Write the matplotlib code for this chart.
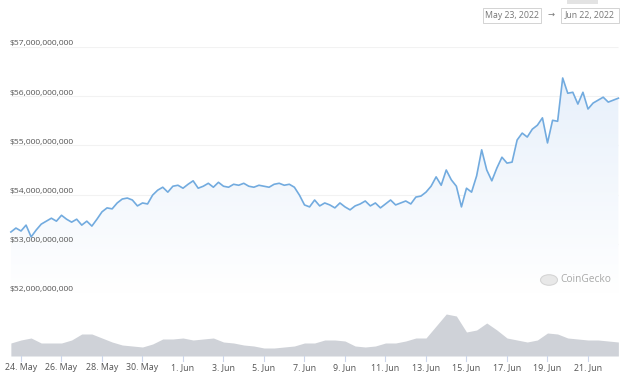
import numpy as np
import pandas as pd
import matplotlib
matplotlib.use('Agg')
from matplotlib import pyplot as plt
import matplotlib.dates as mdates
from matplotlib.colors import LinearSegmentedColormap
from matplotlib.patches import Rectangle, Circle

# market cap, billions USD, every 6 hours from May 23 12:00
cap_start = '2022-05-23 12:00'
market_cap = [
    53.24, 53.32, 53.26, 53.38, 53.14, 53.28, 53.40, 53.46, 53.52, 53.46,
    53.58, 53.50, 53.44, 53.50, 53.38, 53.46, 53.36, 53.50, 53.65, 53.73,
    53.71, 53.83, 53.91, 53.93, 53.89, 53.77, 53.83, 53.81, 53.99, 54.09,
    54.15, 54.05, 54.17, 54.19, 54.13, 54.21, 54.28, 54.13, 54.17, 54.23,
    54.15, 54.25, 54.17, 54.15, 54.21, 54.19, 54.23, 54.17, 54.15, 54.19,
    54.17, 54.15, 54.21, 54.23, 54.19, 54.21, 54.15, 53.99, 53.79, 53.75,
    53.89, 53.77, 53.83, 53.79, 53.73, 53.83, 53.75, 53.69, 53.77, 53.81,
    53.87, 53.77, 53.83, 53.73, 53.81, 53.89, 53.79, 53.83, 53.87, 53.81,
    53.95, 53.97, 54.05, 54.17, 54.36, 54.19, 54.50, 54.30, 54.17, 53.75,
    54.13, 54.05, 54.38, 54.91, 54.50, 54.28, 54.54, 54.76, 54.64, 54.66,
    55.11, 55.25, 55.17, 55.33, 55.41, 55.56, 55.05, 55.51, 55.49, 56.37,
    56.06, 56.08, 55.84, 56.08, 55.74, 55.86, 55.92, 55.98, 55.88, 55.92,
    55.96,
]

# volume (relative units), every 12 hours from May 23 12:00
volume = [
    13, 16, 18, 13, 13, 13, 16, 22, 22, 18,
    14, 11, 10, 9, 12, 17, 17, 18, 16, 17,
    18, 14, 13, 11, 10, 8, 8, 9, 10, 13,
    13, 16, 16, 15, 10, 9, 10, 13, 13, 15,
    18, 18, 30, 42, 40, 24, 26, 33, 26, 18,
    16, 14, 16, 23, 22, 18, 17, 16, 16, 15,
    14,
]

y_ticks = [52, 53, 54, 55, 56, 57]
y_labels = ['$52,000,000,000', '$53,000,000,000', '$54,000,000,000',
            '$55,000,000,000', '$56,000,000,000', '$57,000,000,000']
x_ticks = ['2022-05-24', '2022-05-26', '2022-05-28', '2022-05-30', '2022-06-01',
           '2022-06-03', '2022-06-05', '2022-06-07', '2022-06-09', '2022-06-11',
           '2022-06-13', '2022-06-15', '2022-06-17', '2022-06-19', '2022-06-21']
x_labels = ['24. May', '26. May', '28. May', '30. May', '1. Jun', '3. Jun', '5. Jun',
            '7. Jun', '9. Jun', '11. Jun', '13. Jun', '15. Jun', '17. Jun',
            '19. Jun', '21. Jun']

cap_dates = pd.date_range(cap_start, periods=len(market_cap), freq='6h')
vol_dates = pd.date_range(cap_start, periods=len(volume), freq='12h')

W, H = 632, 392
PX_PER_DAY = 20.25
t0 = mdates.date2num(pd.Timestamp('2022-05-23'))
xlim = (t0 - 0.75 / PX_PER_DAY, t0 + (W - 0.75) / PX_PER_DAY)


def box(x0, y0, x1, y1):
    return [x0 / W, 1 - y1 / H, (x1 - x0) / W, (y1 - y0) / H]


plt.rcParams['font.family'] = ['Open Sans', 'DejaVu Sans']
fig = plt.figure(figsize=(W / 100, H / 100), dpi=100)
fig.patch.set_facecolor('white')

# price panel
ax = fig.add_axes(box(0, 47, W, 293))
ax.set_xlim(xlim)
ax.set_ylim(52, 57)
ax.axis('off')
x0d, x1d = mdates.date2num(cap_dates[0]), mdates.date2num(cap_dates[-1])
ax.hlines(y_ticks, x0d, x1d, color='#f2f2f2', lw=0.8, zorder=0)

poly = ax.fill_between(cap_dates, market_cap, 52, color='none', lw=0)
grad = np.linspace(0, 1, 256).reshape(-1, 1)
cmap = LinearSegmentedColormap.from_list('fade', ['#ffffff', '#e4eefa'])
img = ax.imshow(grad, extent=[x0d, x1d, 52, 57], aspect='auto', cmap=cmap,
                origin='lower', zorder=1)
img.set_clip_path(poly.get_paths()[0], transform=ax.transData)
ax.plot(cap_dates, market_cap, color='#72abdf', lw=1.2, zorder=3)

for v, lab in zip(y_ticks, y_labels):
    ax.annotate(lab, xy=(10 / W, v), xycoords=('axes fraction', 'data'),
                xytext=(0, 3), textcoords='offset pixels', fontsize=6.1,
                color='#555555', ha='left', va='center', zorder=4)

# volume panel
axv = fig.add_axes(box(0, 306, W, 356))
axv.set_xlim(xlim)
axv.set_ylim(0, 50)
axv.fill_between(vol_dates, volume, 0, color='#cfd2d8', lw=0)
axv.axis('off')

# x axis ticks and labels
for d, lab in zip(x_ticks, x_labels):
    xd = mdates.date2num(pd.Timestamp(d))
    axv.plot([xd, xd], [0, -5], color='#ccd6eb', lw=0.8, clip_on=False)
    axv.text(xd, -12, lab, fontsize=6.4, color='#555555', ha='center', va='center')

# date range inputs
fig.patches.append(Rectangle((567 / W, 1 - 4 / H), 31 / W, 4 / H,
                             transform=fig.transFigure, color='#e3e3e3', lw=0))
for bx0, bx1, lab in [(483, 541, 'May 23, 2022'), (561, 619, 'Jun 22, 2022')]:
    fig.patches.append(Rectangle((bx0 / W, 1 - 23 / H), (bx1 - bx0) / W, 15 / H,
                                 transform=fig.transFigure, facecolor='white',
                                 edgecolor='#cccccc', lw=0.6))
    fig.text((bx0 + bx1) / 2 / W, 1 - 15.5 / H, lab, fontsize=6.3, color='#777777',
             ha='center', va='center')
fig.text(551 / W, 1 - 15.5 / H, '\u2192', fontsize=6, color='#777777',
         ha='center', va='center')

# watermark
fig.patches.append(Circle((549 / W, 1 - 280 / H), 8.5 / W, transform=fig.transFigure,
                          facecolor='#e8e8e8', edgecolor='#d5d5d5', lw=0.8))
fig.text(560 / W, 1 - 280 / H, 'CoinGecko', fontsize=7.3, color='#a8a8a8',
         ha='left', va='center')

fig.savefig('out.png', dpi=100)
